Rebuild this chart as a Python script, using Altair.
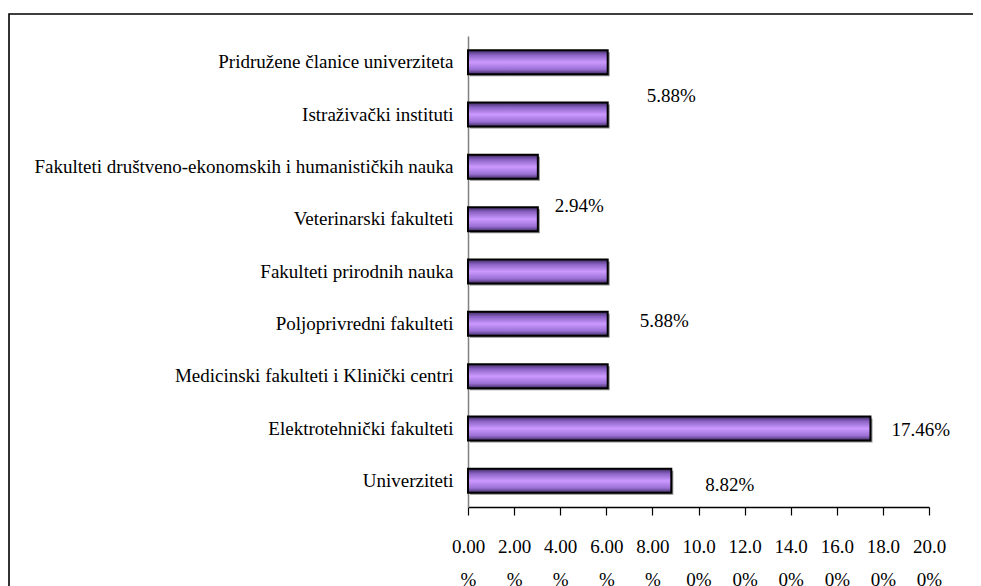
import altair as alt
import pandas as pd

categories = [
    "Pridružene članice univerziteta",
    "Istraživački instituti",
    "Fakulteti društveno-ekonomskih i humanističkih nauka",
    "Veterinarski fakulteti",
    "Fakulteti prirodnih nauka",
    "Poljoprivredni fakulteti",
    "Medicinski fakulteti i Klinički centri",
    "Elektrotehnički fakulteti",
    "Univerziteti",
]
values = [6.06, 6.06, 3.03, 3.03, 6.06, 6.06, 6.06, 17.46, 8.82]
label_texts = ["", "5.88%", "", "2.94%", "", "5.88%", "", "17.46%", "8.82%"]
x_ticks = [0, 2, 4, 6, 8, 10, 12, 14, 16, 18, 20]

# label placement offsets (dx, dy) in pixels, per labelled bar
label_offsets = {
    "Istraživački instituti": (39, -19),
    "Veterinarski fakulteti": (17, -13),
    "Poljoprivredni fakulteti": (32, -3),
    "Elektrotehnički fakulteti": (21, 1),
    "Univerziteti": (34, 4),
}

df = pd.DataFrame({"category": categories, "value": values, "label": label_texts})

FONT = "Liberation Serif"
FS = 19

y_enc = alt.Y(
    "category:N",
    sort=categories,
    scale=alt.Scale(paddingInner=0.54, paddingOuter=0.27),
    axis=alt.Axis(
        title=None,
        ticks=False,
        domainColor="#808080",
        domainWidth=1.5,
        labelFont=FONT,
        labelFontSize=FS,
        labelColor="black",
        labelPadding=15,
        labelLimit=600,
    ),
)
x_enc = alt.X(
    "value:Q",
    scale=alt.Scale(domain=[0, 20], nice=False),
    axis=alt.Axis(
        title=None,
        values=x_ticks,
        grid=False,
        domainColor="black",
        domainWidth=1.5,
        tickColor="black",
        tickWidth=1.2,
        tickSize=8,
        labelFont=FONT,
        labelFontSize=FS,
        labelColor="black",
        labelPadding=22,
        labelLineHeight=33,
        labelOverlap=False,
        labelFlush=False,
        labelExpr="[substring(format(datum.value/100,'.2%'),0,4), substring(format(datum.value/100,'.2%'),4)]",
    ),
)

grad = alt.Gradient(
    gradient="linear",
    stops=[
        alt.GradientStop(color="#3e2a60", offset=0),
        alt.GradientStop(color="#8a62c4", offset=0.2),
        alt.GradientStop(color="#cc99ff", offset=0.5),
        alt.GradientStop(color="#9a70d4", offset=0.8),
        alt.GradientStop(color="#3e2a60", offset=1),
    ],
    x1=0, x2=0, y1=0, y2=1,
)

shadow = alt.Chart(df).mark_bar(
    color="#8c8c8c", xOffset=2, x2Offset=2, yOffset=2, y2Offset=2
).encode(x=x_enc, y=y_enc)

bars = alt.Chart(df).mark_bar(color=grad, stroke="black", strokeWidth=2).encode(
    x=x_enc, y=y_enc
)

layers = [shadow, bars]
for cat, (dx, dy) in label_offsets.items():
    t = alt.Chart(df).transform_filter(alt.datum.category == cat).mark_text(
        align="left", baseline="middle", dx=dx, dy=dy, font=FONT, fontSize=FS, color="black"
    ).encode(
        x=alt.X("value:Q"),
        y=alt.Y("category:N", sort=categories),
        text="label:N",
    )
    layers.append(t)

frame = alt.Chart(alt.Data(values=[{"a": 1}])).mark_rect(
    fillOpacity=0, stroke="black", strokeWidth=1.6
).encode(
    x=alt.value(-459), x2=alt.value(800), y=alt.value(-22), y2=alt.value(800)
)
layers.append(frame)

chart = alt.layer(*layers).properties(
    width=461,
    height=471,
    autosize="none",
    background="white",
    view=alt.ViewBackground(stroke="transparent", strokeWidth=0),
    padding={"left": 460, "top": 28, "right": 44, "bottom": 79},
).configure_view(stroke="transparent", strokeWidth=0)

chart.save("out.html", embed_options={"renderer": "svg", "actions": False})
